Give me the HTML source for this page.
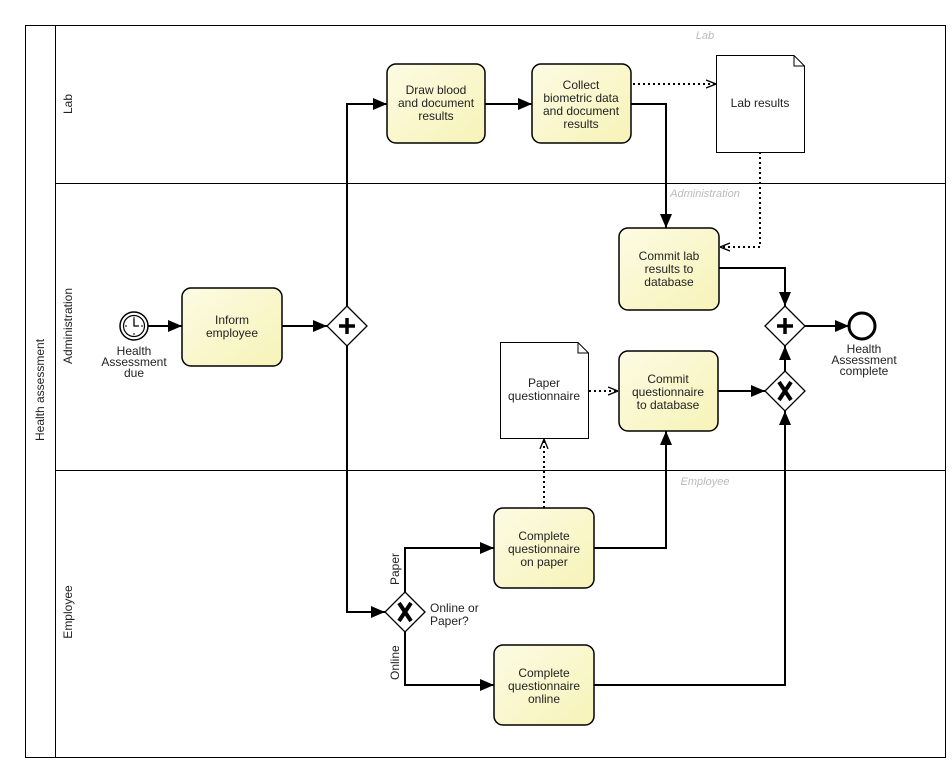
<!DOCTYPE html>
<html><head><meta charset="utf-8"><style>
html,body{margin:0;padding:0;background:#fff;}
svg{display:block;font-family:"Liberation Sans","DejaVu Sans",sans-serif;}
text{font-size:12px;fill:#222;}
.t{text-anchor:middle;}
.g{fill:#bbb;font-style:italic;font-size:11px;}
</style></head><body>
<svg width="952" height="782" viewBox="0 0 952 782" xmlns="http://www.w3.org/2000/svg">
<defs>
<linearGradient id="tg" x1="0" y1="0" x2="1" y2="1">
<stop offset="0" stop-color="#fcfbe3"/><stop offset="1" stop-color="#f7f3b8"/>
</linearGradient>
<marker id="a" viewBox="0 0 14 12" refX="14" refY="6" markerWidth="14" markerHeight="12" markerUnits="userSpaceOnUse" orient="auto"><path d="M0,0 L14,6 L0,12 z" fill="#000"/></marker>
<marker id="o" viewBox="0 0 10 10" refX="10" refY="5" markerWidth="10" markerHeight="10" markerUnits="userSpaceOnUse" orient="auto"><path d="M0,1 L10,5 L0,9" fill="none" stroke="#000" stroke-width="1.3"/></marker>
</defs>
<rect x="25.5" y="25.5" width="920" height="732" fill="none" stroke="#000"/>
<line x1="55.5" y1="25" x2="55.5" y2="757" stroke="#000"/>
<line x1="55" y1="183.5" x2="945" y2="183.5" stroke="#000"/>
<line x1="55" y1="470.5" x2="945" y2="470.5" stroke="#000"/>
<text transform="translate(44,390) rotate(-90)" class="t">Health assessment</text>
<text transform="translate(72,104) rotate(-90)" class="t">Lab</text>
<text transform="translate(72,326) rotate(-90)" class="t">Administration</text>
<text transform="translate(72,612) rotate(-90)" class="t">Employee</text>
<text x="705" y="39" class="g t">Lab</text>
<text x="705" y="197" class="g t">Administration</text>
<text x="705" y="485" class="g t">Employee</text>

<g stroke="#000" stroke-width="2" fill="none">
<line x1="148" y1="326" x2="182" y2="326" marker-end="url(#a)"/>
<line x1="282" y1="326" x2="327" y2="326" marker-end="url(#a)"/>
<polyline points="347,306 347,104 387,104" marker-end="url(#a)"/>
<polyline points="347,346 347,612 385,612" marker-end="url(#a)"/>
<line x1="485" y1="104" x2="532" y2="104" marker-end="url(#a)"/>
<polyline points="631,104 666,104 666,228" marker-end="url(#a)"/>
<polyline points="719,268 785,268 785,306" marker-end="url(#a)"/>
<line x1="805" y1="326" x2="849" y2="326" marker-end="url(#a)"/>
<line x1="718" y1="391" x2="765" y2="391" marker-end="url(#a)"/>
<line x1="785" y1="371" x2="785" y2="346" marker-end="url(#a)"/>
<polyline points="594,685 785,685 785,411" marker-end="url(#a)"/>
<polyline points="594,548 666,548 666,431" marker-end="url(#a)"/>
<polyline points="405,592 405,548 494,548" marker-end="url(#a)"/>
<polyline points="405,632 405,685 494,685" marker-end="url(#a)"/>
</g>
<g stroke="#000" stroke-width="2" fill="none" stroke-dasharray="2,3">
<line x1="633" y1="84" x2="716" y2="84" marker-end="url(#o)"/>
<polyline points="760,152 760,247 720,247" marker-end="url(#o)"/>
<line x1="544" y1="508" x2="544" y2="439" marker-end="url(#o)"/>
<line x1="589" y1="391" x2="618" y2="391" marker-end="url(#o)"/>
</g>

<circle cx="134" cy="326" r="14" fill="#fff" stroke="#000" stroke-width="1.5"/>
<circle cx="134" cy="326" r="10.5" fill="#fff" stroke="#000" stroke-width="1.2"/>
<g stroke="#000" stroke-width="1"><line x1="134" y1="317" x2="134" y2="319"/><line x1="134" y1="333" x2="134" y2="335"/><line x1="125" y1="326" x2="127" y2="326"/><line x1="141" y1="326" x2="143" y2="326"/><polyline points="134,319 134,326 139,326" fill="none" stroke-width="1.3"/></g>
<text x="134" y="355" class="t" font-size="11">Health</text>
<text x="134" y="366" class="t" font-size="11">Assessment</text>
<text x="134" y="377" class="t" font-size="11">due</text>

<g fill="url(#tg)" stroke="#000" stroke-width="1.5">
<rect x="182" y="288" width="100" height="78" rx="9"/>
<rect x="387" y="64" width="98" height="79" rx="9"/>
<rect x="532" y="64" width="99" height="79" rx="9"/>
<rect x="619" y="228" width="100" height="82" rx="9"/>
<rect x="619" y="351" width="99" height="80" rx="9"/>
<rect x="494" y="508" width="100" height="80" rx="9"/>
<rect x="494" y="645" width="100" height="80" rx="9"/>
</g>
<text x="232" y="324" class="t">Inform</text><text x="232" y="337" class="t">employee</text>
<text x="436" y="94" class="t">Draw blood</text><text x="436" y="107" class="t">and document</text><text x="436" y="120" class="t">results</text>
<text x="581" y="89" class="t">Collect</text><text x="581" y="102" class="t">biometric data</text><text x="581" y="115" class="t">and document</text><text x="581" y="128" class="t">results</text>
<text x="669" y="260" class="t">Commit lab</text><text x="669" y="273" class="t">results to</text><text x="669" y="286" class="t">database</text>
<text x="668" y="383" class="t">Commit</text><text x="668" y="396" class="t">questionnaire</text><text x="668" y="409" class="t">to database</text>
<text x="544" y="540" class="t">Complete</text><text x="544" y="553" class="t">questionnaire</text><text x="544" y="566" class="t">on paper</text>
<text x="544" y="677" class="t">Complete</text><text x="544" y="690" class="t">questionnaire</text><text x="544" y="703" class="t">online</text>

<path d="M716.5,55.5 H794 L804.5,66 V152.5 H716.5 Z M794,55.5 V66 H804.5" fill="#fff" stroke="#000"/>
<text x="760" y="107" class="t">Lab results</text>
<path d="M500.5,342.5 H578 L588.5,353 V438.5 H500.5 Z M578,342.5 V353 H588.5" fill="#fff" stroke="#000"/>
<text x="544" y="387" class="t">Paper</text><text x="544" y="400" class="t">questionnaire</text>

<g fill="#fff" stroke="#000" stroke-width="1.3">
<path d="M347,306 L367,326 L347,346 L327,326 Z"/>
<path d="M785,306 L805,326 L785,346 L765,326 Z"/>
<path d="M785,371 L805,391 L785,411 L765,391 Z"/>
<path d="M405,592 L425,612 L405,632 L385,612 Z"/>
</g>
<g stroke="#000" stroke-width="3.5">
<line x1="339" y1="326" x2="355" y2="326"/><line x1="347" y1="318" x2="347" y2="334"/>
<line x1="777" y1="326" x2="793" y2="326"/><line x1="785" y1="318" x2="785" y2="334"/>
</g>
<g stroke="#000" stroke-width="4">
<line x1="779" y1="382" x2="791" y2="400"/><line x1="791" y1="382" x2="779" y2="400"/>
<line x1="399" y1="603" x2="411" y2="621"/><line x1="411" y1="603" x2="399" y2="621"/>
</g>
<text x="430" y="612">Online or</text><text x="430" y="625">Paper?</text>
<text transform="translate(399,585) rotate(-90)">Paper</text>
<text transform="translate(399,680) rotate(-90)">Online</text>

<circle cx="862" cy="326" r="13" fill="#fff" stroke="#000" stroke-width="3"/>
<text x="864" y="353" class="t" font-size="11">Health</text>
<text x="864" y="364" class="t" font-size="11">Assessment</text>
<text x="864" y="375" class="t" font-size="11">complete</text>
</svg>
</body></html>
